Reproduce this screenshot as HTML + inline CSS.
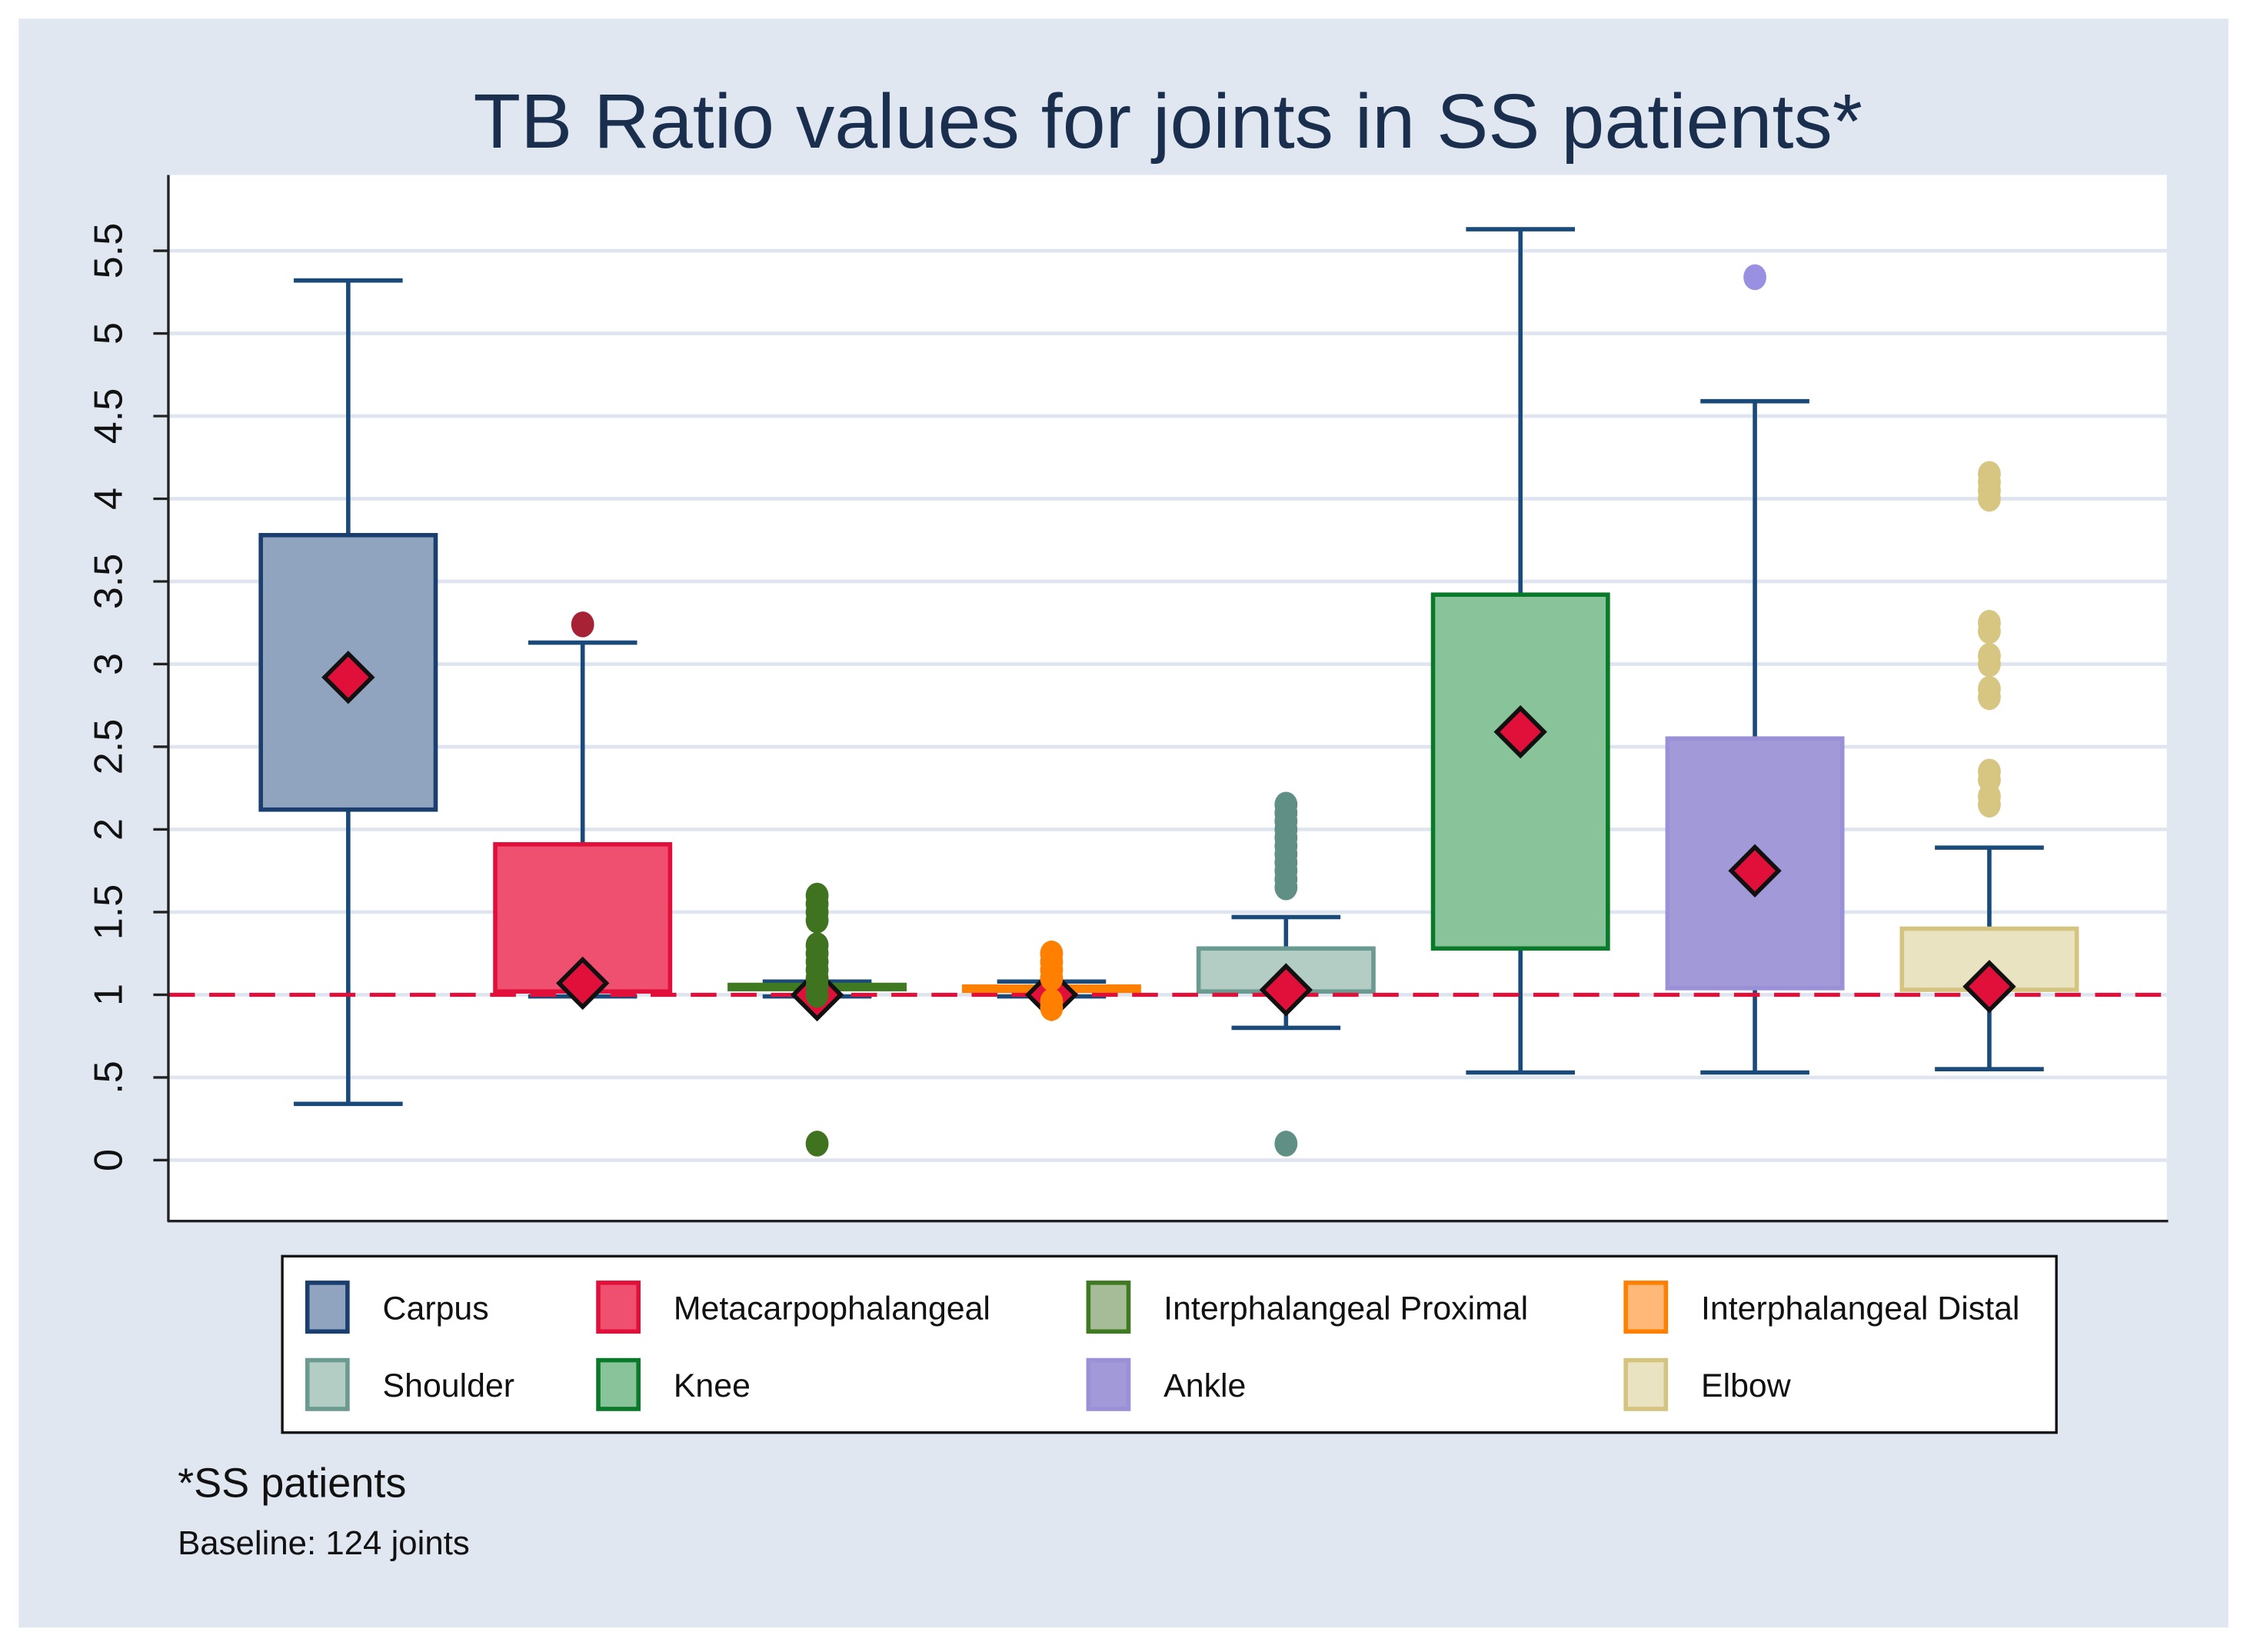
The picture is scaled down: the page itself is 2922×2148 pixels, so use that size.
<!DOCTYPE html>
<html><head><meta charset="utf-8"><style>
html,body{margin:0;padding:0;background:#fff;}
svg{display:block;font-family:"Liberation Sans",Arial,sans-serif;}
</style></head><body>
<svg id="chart" width="2922" height="2148" viewBox="0 0 1568 1152" preserveAspectRatio="none" xmlns="http://www.w3.org/2000/svg">
<rect x="13" y="13" width="1542" height="1122" fill="#e1e7f1"/>
<text x="815" y="103" text-anchor="middle" font-size="54" fill="#1a2e4e">TB Ratio values for joints in SS patients*</text>
<rect x="117" y="122" width="1395" height="729" fill="#ffffff"/>
<g id="grid"></g>
<g id="marks"></g>
<line x1="117.5" y1="122" x2="117.5" y2="852" stroke="#222" stroke-width="1.8"/>
<line x1="117" y1="851.5" x2="1513" y2="851.5" stroke="#222" stroke-width="1.8"/>
<g>
<rect x="197" y="876" width="1238" height="123" fill="#fff" stroke="#111" stroke-width="1.8"/>
<g id="legend"></g>
</g>
<text x="124" y="1044" font-size="29" fill="#111">*SS patients</text>
<text x="124" y="1084" font-size="23.5" fill="#111">Baseline: 124 joints</text>
</svg>
<script>
const categories = ["Carpus","Metacarpophalangeal","Interphalangeal Proximal","Interphalangeal Distal","Shoulder","Knee","Ankle","Elbow"];
const upperWhisker = [5.32,3.13,1.08,1.08,1.47,5.63,4.59,1.89];
const q3 = [3.78,1.91,1.06,1.05,1.28,3.42,2.55,1.40];
const q1 = [2.12,1.02,1.04,1.03,1.02,1.28,1.04,1.03];
const lowerWhisker = [0.34,0.99,0.99,0.99,0.80,0.53,0.53,0.55];
const means = [2.92,1.07,1.0,1.0,1.03,2.59,1.75,1.05];
const outliers = [
  [],
  [3.24],
  [0.1,1.0,1.05,1.1,1.15,1.2,1.25,1.3,1.45,1.5,1.55,1.6],
  [0.92,0.96,1.1,1.15,1.2,1.25],
  [0.1,1.65,1.7,1.75,1.8,1.85,1.9,1.95,2.0,2.05,2.1,2.15],
  [],
  [5.34],
  [2.15,2.2,2.3,2.35,2.8,2.85,3.0,3.05,3.2,3.25,4.0,4.05,4.1,4.15]
];
const yTicks = [0,0.5,1,1.5,2,2.5,3,3.5,4,4.5,5,5.5];
const yTickLabels = ["0",".5","1","1.5","2","2.5","3","3.5","4","4.5","5","5.5"];
const referenceValue = 1;

const fills = ["#90a4bf","#f05070","#a6bc98","#ffb878","#b3cdc5","#88c39a","#a299d9","#e9e3c2"];
const strokes = ["#1a3f6e","#e0103a","#3f7a22","#ff8000","#6a9a90","#0a7a2a","#9a90d8","#d4c480"];
const outColors = ["#1a3f6e","#a82235","#3f7320","#ff8000","#5f8f85","#0a7a2a","#9a90e2","#d6c682"];

const NS="http://www.w3.org/2000/svg";
function y(v){return 809 - v*115.3;}
function x(i){return 243 + i*163.6;}
function mk(tag,attrs,parent){const e=document.createElementNS(NS,tag);for(const k in attrs)e.setAttribute(k,attrs[k]);parent.appendChild(e);return e;}
const grid=document.getElementById('grid'), marks=document.getElementById('marks'), legend=document.getElementById('legend');

yTicks.forEach((t,i)=>{
  const g=mk('line',{x1:118,x2:1512,y1:y(t),y2:y(t),stroke:"#dfe5f0","stroke-width":2.5},grid);
  
  
  const tk=mk('line',{x1:107,x2:117,y1:y(t),y2:y(t),stroke:"#222","stroke-width":1.8},grid);
  
  
  const lb=mk('text',{x:0,y:0,transform:`translate(85,${y(t)}) rotate(-90)`,"text-anchor":"middle","font-size":28,fill:"#111"},grid);
  
  
  lb.textContent=yTickLabels[i];
});

const W=122, C=76;
categories.forEach((c,i)=>{
  const cx=x(i);
  const g=mk('g',{},marks);
  
  
  const ln={stroke:"#1a4a7a","stroke-width":3};
  mk('line',Object.assign({x1:cx,x2:cx,y1:y(upperWhisker[i]),y2:y(q3[i])},ln),g);
  mk('line',Object.assign({x1:cx,x2:cx,y1:y(q1[i]),y2:y(lowerWhisker[i])},ln),g);
  mk('line',Object.assign({x1:cx-C/2,x2:cx+C/2,y1:y(upperWhisker[i]),y2:y(upperWhisker[i])},ln),g);
  mk('line',Object.assign({x1:cx-C/2,x2:cx+C/2,y1:y(lowerWhisker[i]),y2:y(lowerWhisker[i])},ln),g);
  const h=Math.max(y(q1[i])-y(q3[i]),3);
  mk('rect',{x:cx-W/2,y:y(q3[i]),width:W,height:h,fill:fills[i],stroke:strokes[i],"stroke-width":3},g);
});

const ref=mk('line',{x1:118,x2:1512,y1:y(referenceValue),y2:y(referenceValue),stroke:"#e0103a","stroke-width":2.8,"stroke-dasharray":"18 10"},marks);



categories.forEach((c,i)=>{
  const cx=x(i), my=y(means[i]), s=16.5;
  const d=mk('polygon',{points:`${cx},${my-s} ${cx+s},${my} ${cx},${my+s} ${cx-s},${my}`,fill:"#e0103a",stroke:"#111","stroke-width":3},marks);
  
  
  outliers[i].forEach(v=>{
    const o=mk('ellipse',{cx:cx,cy:y(v),rx:8,ry:9,fill:outColors[i]},marks);
    
    
  });
});

const colX=[213,416,758,1133];
categories.forEach((c,i)=>{
  const col=i%4, row=Math.floor(i/4);
  const sx=colX[col], sy=row?947:893;
  const g=mk('g',{},legend);
  
  
  mk('rect',{x:sx+1.5,y:sy+1.5,width:28,height:34,fill:fills[i],stroke:strokes[i],"stroke-width":3},g);
  const t=mk('text',{x:sx+54,y:sy+27,"font-size":23,fill:"#111"},g);
  t.textContent=c;
});
</script>
</body></html>
